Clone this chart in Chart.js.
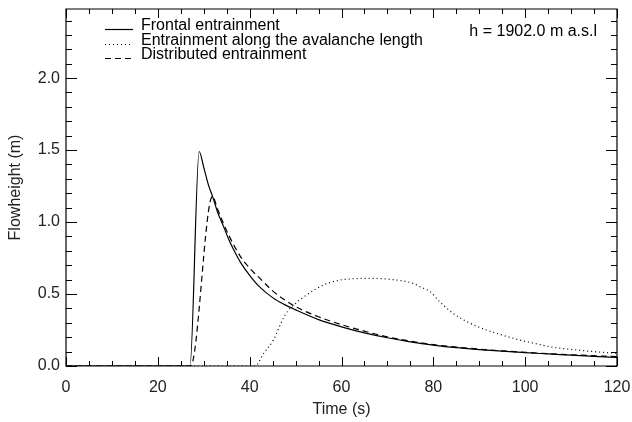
<!DOCTYPE html>
<html>
<head>
<meta charset="utf-8">
<script src="https://cdn.jsdelivr.net/npm/chart.js@4"></script>
<style>
html,body{margin:0;padding:0;background:#fff;}
canvas{display:block;}
</style>
</head>
<body>
<canvas id="c" width="632" height="422"></canvas>
<script>
// ---- data ----
const frontalT = [0, 27.0, 29.0, 30.0, 31.0, 32.0, 33.0, 34.3, 35.5, 36.8, 38, 40, 42, 45, 47.5, 50, 55, 60, 65, 70, 75, 80, 85, 90, 95, 100, 105, 110, 115, 120];
const frontalH = [0, 0, 1.49, 1.38, 1.26, 1.17, 1.07, 0.97, 0.875, 0.79, 0.72, 0.63, 0.555, 0.475, 0.428, 0.39, 0.322, 0.272, 0.23, 0.196, 0.168, 0.145, 0.127, 0.114, 0.103, 0.093, 0.084, 0.075, 0.067, 0.06];

const alongT = [0, 41.2, 43, 45.15, 47.7, 50, 52.4, 56, 59.7, 62, 65.5, 70.6, 75.6, 77.1, 79.3, 81.4, 84.3, 88, 91.6, 95, 98.9, 102, 106.1, 110, 113.4, 117, 120];
const alongH = [0, 0, 0.085, 0.18, 0.354, 0.435, 0.493, 0.562, 0.597, 0.605, 0.609, 0.602, 0.574, 0.55, 0.516, 0.446, 0.366, 0.297, 0.25, 0.215, 0.18, 0.157, 0.13, 0.115, 0.104, 0.095, 0.088];

const distT = [0, 27.15, 31.9, 33, 34.3, 35.5, 36.8, 38, 40, 42.5, 45, 47.5, 50, 55, 60, 65, 70, 75, 80, 90, 100, 110, 120];
const distH = [0, 0, 1.18, 1.09, 0.99, 0.905, 0.825, 0.76, 0.68, 0.60, 0.522, 0.462, 0.412, 0.342, 0.287, 0.242, 0.202, 0.173, 0.149, 0.117, 0.095, 0.078, 0.065];

const seriesLabels = ["Frontal entrainment", "Entrainment along the avalanche length", "Distributed entrainment"];
const xTickLabels = [0, 20, 40, 60, 80, 100, 120];
const yTickLabels = [0.0, 0.5, 1.0, 1.5, 2.0];
const annotation = "h = 1902.0 m a.s.l";
const xTitle = "Time (s)";
const yTitle = "Flowheight (m)";

function pts(t, h){ return t.map((v,i)=>({x:v, y:h[i]})); }

const FONT = "'Liberation Sans', Arial, Helvetica, sans-serif";
const FS = 16;

const boxPlugin = {
  id: 'box',
  afterDraw(chart){
    const ctx = chart.ctx;
    const {left,right,top,bottom} = chart.chartArea;
    const xs = chart.scales.x, ys = chart.scales.y;
    ctx.save();
    ctx.strokeStyle = '#000';
    ctx.lineWidth = 1.2;
    ctx.beginPath();
    ctx.rect(left, top, right-left, bottom-top);
    ctx.stroke();
    ctx.lineWidth = 1;
    ctx.beginPath();
    for (let v = 0; v <= 120.001; v += 5){
      const px = Math.round(xs.getPixelForValue(v)) + 0.5;
      const len = (Math.abs(v % 20) < 1e-6) ? 9 : 5;
      ctx.moveTo(px, bottom); ctx.lineTo(px, bottom - len);
      ctx.moveTo(px, top); ctx.lineTo(px, top + len);
    }
    for (let i = 0; i <= 40; i++){
      const v = i/10;
      if (v > ys.max + 1e-6) break;
      const py = Math.round(ys.getPixelForValue(v)) + 0.5;
      const len = (i % 5 === 0) ? 11 : 6;
      ctx.moveTo(left, py); ctx.lineTo(left + len, py);
      ctx.moveTo(right, py); ctx.lineTo(right - len, py);
    }
    ctx.stroke();

    // legend
    ctx.font = FS + 'px ' + FONT;
    ctx.fillStyle = '#000';
    ctx.textBaseline = 'middle';
    chart.data.datasets.forEach((ds, i) => {
      const yy = Math.round(top + 20 + i*14.5);
      ctx.beginPath();
      ctx.setLineDash(ds.borderDash || []);
      ctx.lineWidth = 1.2;
      ctx.moveTo(left + 39, yy + 0.5); ctx.lineTo(left + 67, yy + 0.5);
      ctx.stroke();
      ctx.setLineDash([]);
      ctx.fillText(ds.label, left + 75, yy - 3);
    });
    ctx.textAlign = 'right';
    ctx.fillText(annotation, right - 20, top + 23);
    ctx.restore();
  }
};

new Chart(document.getElementById('c'), {
  type: 'line',
  data: {
    datasets: [
      {label: seriesLabels[0], data: pts(frontalT, frontalH), borderColor:'#000', borderWidth:1.2, pointRadius:0, borderDash:[], cubicInterpolationMode:'monotone', fill:false},
      {label: seriesLabels[1], data: pts(alongT, alongH), borderColor:'#000', borderWidth:1.2, pointRadius:0, borderDash:[1,3], cubicInterpolationMode:'monotone', fill:false},
      {label: seriesLabels[2], data: pts(distT, distH), borderColor:'#000', borderWidth:1.2, pointRadius:0, borderDash:[6,4], cubicInterpolationMode:'monotone', fill:false}
    ]
  },
  options: {
    responsive: false,
    animation: false,
    devicePixelRatio: 1,
    layout: {padding: {top: 9, right: 15, left: 0, bottom: 0}},
    plugins: {legend:{display:false}, tooltip:{enabled:false}},
    scales: {
      x: {
        type: 'linear', min: 0, max: 120,
        grid: {display:false, drawTicks:false},
        border: {display:false},
        afterBuildTicks(s){ s.ticks = xTickLabels.map(v=>({value:v})); },
        afterFit(s){ s.height = 56; s.paddingLeft = 0; s.paddingRight = 0; },
        ticks: {color:'#222', font:{family:FONT, size:FS}, padding:12, maxRotation:0,
          callback:(v)=>String(v)},
        title: {display:true, text:xTitle, color:'#222', font:{family:FONT, size:FS}, padding:{top:0, bottom:3}}
      },
      y: {
        type: 'linear', min: 0, max: 2.48,
        grid: {display:false, drawTicks:false},
        border: {display:false},
        afterBuildTicks(s){ s.ticks = yTickLabels.map(v=>({value:v})); },
        afterFit(s){ s.width = 66; s.paddingTop = 0; s.paddingBottom = 0; },
        ticks: {color:'#222', font:{family:FONT, size:FS}, padding:6,
          callback:(v)=>Number(v).toFixed(1)},
        title: {display:true, text:yTitle, color:'#222', font:{family:FONT, size:FS}, padding:{top:6, bottom:0}}
      }
    }
  },
  plugins: [boxPlugin]
});
</script>
</body>
</html>
